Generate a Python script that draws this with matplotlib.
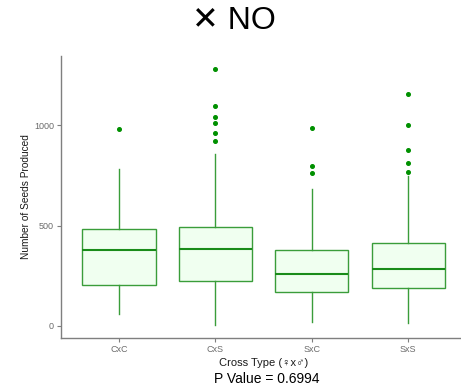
import matplotlib
matplotlib.use("Agg")
import matplotlib.pyplot as plt

categories = ["CxC", "CxS", "SxC", "SxS"]
whislo = [57, 3, 17, 12]
q1 = [202, 225, 168, 187]
median = [378, 383, 259, 284]
q3 = [484, 491, 379, 413]
whishi = [782, 858, 681, 747]
outliers = [
    [980],
    [922, 962, 1010, 1043, 1095, 1281],
    [762, 798, 988],
    [765, 813, 875, 1001, 1158],
]
y_ticks = [0, 500, 1000]

plt.rcParams['font.family'] = ['Liberation Sans', 'DejaVu Sans']

fig = plt.figure(figsize=(4.61, 3.88), dpi=100)
ax = fig.add_axes([61/461, (388-337.7)/388, (466-61)/461, (337.7-56)/388])

stats = []
for i, c in enumerate(categories):
    stats.append(dict(label=c, whislo=whislo[i], q1=q1[i], med=median[i],
                      q3=q3[i], whishi=whishi[i], fliers=outliers[i]))

edge = '#3a9d3a'
ax.bxp(stats, positions=range(1, 5), widths=0.76, patch_artist=True,
       showcaps=False,
       boxprops=dict(facecolor='#f0fff0', edgecolor=edge, linewidth=1.0),
       whiskerprops=dict(color=edge, linewidth=1.0),
       medianprops=dict(color='#1a8c1a', linewidth=1.5),
       flierprops=dict(marker='o', markerfacecolor='#009000', markeredgecolor='#009000',
                       markersize=2.6, linestyle='none'))

ax.set_xlim(0.4, 4.6)
ax.set_ylim(-60, 1346)
ax.set_yticks(y_ticks)
ax.set_xticks(range(1, 5))
ax.set_xticklabels(categories)
for s in ['top', 'right']:
    ax.spines[s].set_visible(False)
for s in ['left', 'bottom']:
    ax.spines[s].set_color('#7f7f7f')
    ax.spines[s].set_linewidth(1.0)
ax.tick_params(axis='both', colors='#7f7f7f', labelcolor='#6b6b6b', labelsize=6.5,
               length=3, width=0.8, pad=2)

ax.set_ylabel("Number of Seeds Produced", fontsize=7.3, color='#1a1a1a', labelpad=2)
ax.set_xlabel("Cross Type (♀x♂)", fontsize=8, color='#1a1a1a', labelpad=3,
              fontfamily=['Liberation Sans', 'DejaVu Sans'])

fig.text(234/461, 1 - 21/388, "✕ NO", ha='center', va='center', fontsize=23,
         color='black', fontfamily=['Liberation Sans', 'DejaVu Sans'])
fig.text(267/461, 1 - 379/388, "P Value = 0.6994", ha='center', va='center',
         fontsize=10, color='black')

fig.savefig("out.png", dpi=100)
